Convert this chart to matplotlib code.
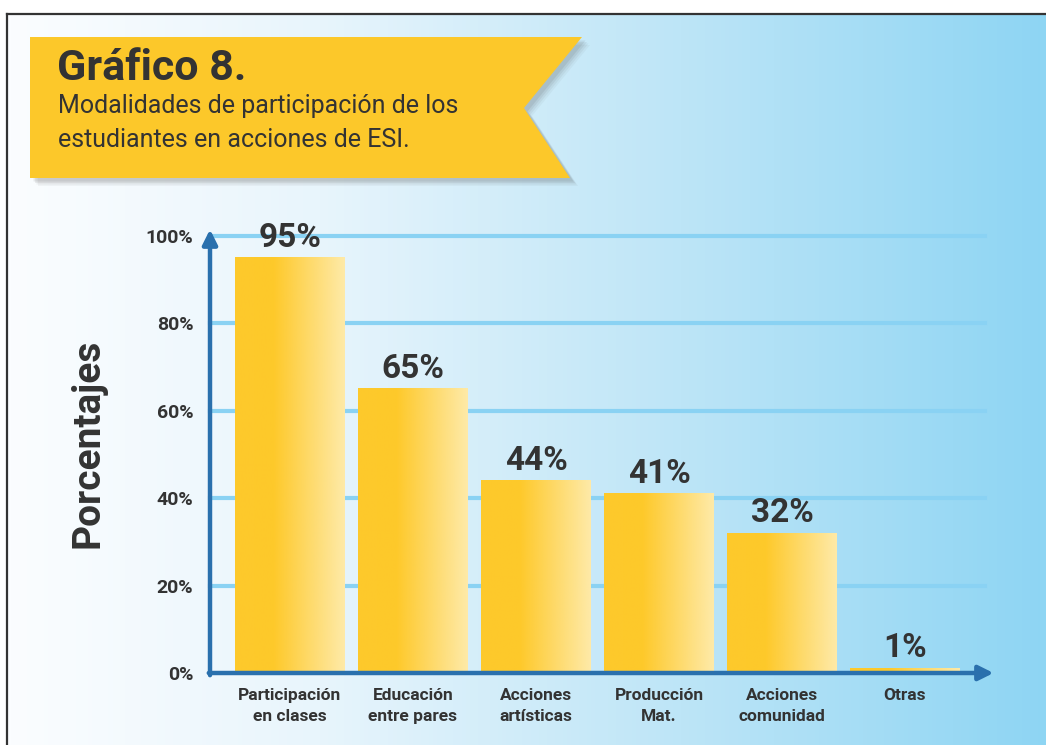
import numpy as np
import matplotlib.pyplot as plt
from matplotlib.colors import LinearSegmentedColormap
from matplotlib.patches import Polygon

# datos
categorias = ['Participación\nen clases', 'Educación\nentre pares', 'Acciones\nartísticas',
              'Producción\nMat.', 'Acciones\ncomunidad', 'Otras']
porcentajes = [95, 65, 44, 41, 32, 1]
ticks_y = [0, 20, 40, 60, 80, 100]
ticks_y_txt = ['0%', '20%', '40%', '60%', '80%', '100%']

plt.rcParams['font.family'] = ['Roboto', 'DejaVu Sans']
texto = '#333333'
azul = '#2a70ad'
grid_col = '#8ad2f3'

fig = plt.figure(figsize=(10.46, 7.45), dpi=100)

# fondo con degradado (coordenadas en pixeles)
bg = fig.add_axes([0, 0, 1, 1])
bg.set_xlim(0, 1046)
bg.set_ylim(745, 0)
bg.axis('off')
fondo = LinearSegmentedColormap.from_list('fondo', [(0, '#fbfdff'), (0.3, '#e8f5fc'),
                                                    (0.65, '#bde5f7'), (1, '#8ed5f3')])
grad = np.linspace(0, 1, 256).reshape(1, -1)
bg.imshow(grad, cmap=fondo, extent=(7, 1046, 745, 14), aspect='auto', zorder=0)
bg.plot([7, 1046], [14, 14], color='#333333', lw=1.6, zorder=1)
bg.plot([7, 7], [14, 745], color='#333333', lw=1.6, zorder=1)

# cinta del titulo con sombra
cinta = [(30, 37), (582, 37), (524, 108), (570, 178), (30, 178)]
for i, a in enumerate([0.05, 0.07, 0.09, 0.11]):
    d = 8 - i * 1.5
    sombra = [(x + d, y + d) for x, y in cinta]
    bg.add_patch(Polygon(sombra, closed=True, facecolor='#555555', alpha=a,
                         edgecolor='none', zorder=2))
bg.add_patch(Polygon(cinta, closed=True, facecolor='#fcc82a', edgecolor='none', zorder=3))
bg.text(57, 68, 'Gráfico 8.', fontsize=31, fontweight='bold', color=texto,
        va='center', ha='left', zorder=4)
bg.text(58, 106, 'Modalidades de participación de los', fontsize=18, color=texto,
        va='center', ha='left', zorder=4)
bg.text(58, 140, 'estudiantes en acciones de ESI.', fontsize=18, color=texto,
        va='center', ha='left', zorder=4)
bg.text(88, 443, 'Porcentajes', fontsize=28, fontweight='bold', color=texto,
        rotation=90, va='center', ha='center', zorder=4)

# grafico de barras
ax = fig.add_axes([210 / 1046, 72 / 745, 778 / 1046, 437 / 745])
ax.patch.set_alpha(0)
x = np.arange(len(categorias))
ancho = 0.89
ax.set_xlim(-0.65, 5.675)
ax.set_ylim(0, 100)
for s in ax.spines.values():
    s.set_visible(False)

for t in ticks_y[1:]:
    ax.plot([-0.65, 5.65], [t, t], color=grid_col, lw=3, zorder=1, clip_on=False)

barra = LinearSegmentedColormap.from_list('barra', [(0, '#fdc92c'), (0.35, '#fec92a'),
                                                    (1, '#feeaa8')])
for xi, v in zip(x, porcentajes):
    ax.imshow(grad, cmap=barra, extent=(xi - ancho / 2, xi + ancho / 2, 0, v),
              aspect='auto', zorder=2)
    ax.annotate(f'{v}%', (xi, v), xytext=(0, 3), textcoords='offset points',
                ha='center', va='bottom', fontsize=24, fontweight='bold',
                color=texto, zorder=5, annotation_clip=False)

# ejes con flechas
ax.annotate('', xy=(5.72, 0), xytext=(-0.66, 0),
            arrowprops=dict(arrowstyle='-|>', color=azul, lw=3.2, mutation_scale=22,
                            shrinkA=0, shrinkB=0), annotation_clip=False, zorder=6)
ax.annotate('', xy=(-0.65, 101.5), xytext=(-0.65, -0.5),
            arrowprops=dict(arrowstyle='-|>', color=azul, lw=3.2, mutation_scale=22,
                            shrinkA=0, shrinkB=0), annotation_clip=False, zorder=6)

ax.set_yticks(ticks_y)
ax.set_yticklabels(ticks_y_txt, fontsize=14, fontweight='bold', color=texto)
ax.set_xticks(x)
ax.set_xticklabels(categorias, fontsize=12.5, fontweight='bold', color=texto, linespacing=1.45)
ax.tick_params(axis='y', length=0, pad=12)
ax.tick_params(axis='x', length=0, pad=11)

fig.savefig('out.png', dpi=100)
